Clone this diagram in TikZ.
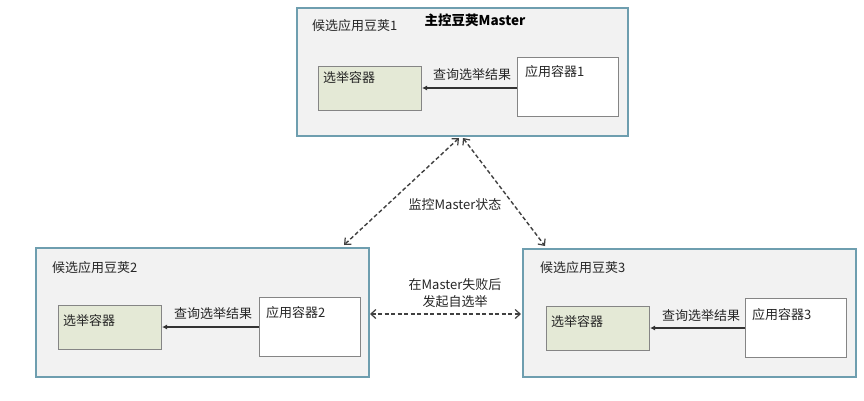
\documentclass[tikz,border=0pt]{standalone}
\usepackage{fontspec}
\setmainfont{Noto Sans CJK SC}
\usetikzlibrary{arrows.meta,positioning}
\definecolor{podfill}{HTML}{F2F2F2}
\definecolor{podline}{HTML}{6E9EAF}
\definecolor{elecfill}{HTML}{E4E9D6}
\definecolor{boxline}{HTML}{858585}
\definecolor{txt}{HTML}{262626}
\tikzset{
  pod/.style={draw=podline,fill=podfill,line width=1.8pt,anchor=north west,inner sep=0pt},
  elec/.style={draw=boxline,fill=elecfill,line width=1pt,anchor=north west,inner sep=0pt,minimum width=103pt,minimum height=44pt},
  appc/.style={draw=boxline,fill=white,line width=1pt,anchor=north west,inner sep=0pt,minimum width=101pt,minimum height=59pt},
  lbl/.style={font=\fontsize{13}{16.5}\selectfont,text=txt,inner sep=0pt,anchor=west},
  query/.style={-{Latex[length=5pt,width=5pt]},line width=1.8pt,draw=black!80},
  mon/.style={{Straight Barb[length=5pt,width=9pt,line width=1.2pt]}-{Straight Barb[length=5pt,width=9pt,line width=1.2pt]},line width=1.4pt,draw=black!75,dash pattern=on 4pt off 2.5pt}
}
\begin{document}
\begin{tikzpicture}[x=1pt,y=-1pt]
\useasboundingbox[fill=white] (0,0) rectangle (864,400);
% pods
\node[pod,minimum width=331pt,minimum height=128pt] (p1) at (296,7) {};
\node[pod,minimum width=333pt,minimum height=129pt] (p2) at (35,247) {};
\node[pod,minimum width=333pt,minimum height=128pt] (p3) at (522,248) {};
% pod labels
\node[font=\fontsize{13.5}{16.5}\selectfont\bfseries,text=black,inner sep=0pt] (m) at (475,20) {主控豆荚Master};
\node[lbl] (l1) at (312,26) {候选应用豆荚1};
\node[lbl] (l2) at (52,268) {候选应用豆荚2};
\node[lbl] (l3) at (540,268) {候选应用豆荚3};
% pod 1 contents
\node[elec] (e1) at (318,66) {};
\node[lbl] at (323,78) {选举容器};
\node[appc] (a1) at (517,57) {};
\node[lbl] at (525,72) {应用容器1};
\draw[query] (a1.west |- 0,88) -- (e1.east |- 0,88);
\node[lbl] (q1) at (433,75) {查询选举结果};
% pod 2 contents
\node[elec] (e2) at (58,305) {};
\node[lbl] at (63,321) {选举容器};
\node[appc] (a2) at (259,297) {};
\node[lbl] at (266,313) {应用容器2};
\draw[query] (a2.west |- 0,327) -- (e2.east |- 0,327);
\node[lbl] (q2) at (174,314) {查询选举结果};
% pod 3 contents
\node[elec] (e3) at (546,306) {};
\node[lbl] at (551,322) {选举容器};
\node[appc] (a3) at (745,298) {};
\node[lbl] at (752,315) {应用容器3};
\draw[query] (a3.west |- 0,328) -- (e3.east |- 0,328);
\node[lbl] (q3) at (662,316) {查询选举结果};
% monitoring connectors
\coordinate (t1) at (459,138);
\coordinate (t2) at (463,138);
\coordinate (b2) at (344,245);
\coordinate (b3) at (545,246);
\draw[mon] (t1) -- (b2);
\draw[mon] (t2) -- (b3);
\node[lbl,anchor=center] (ml) at (455,205) {监控Master状态};
\coordinate (h2) at (370,314);
\coordinate (h3) at (521,314);
\draw[mon] (h2) -- (h3);
\node[lbl,anchor=center,align=center] (el) at (455,293) {在Master失败后\\发起自选举};
\end{tikzpicture}
\end{document}
